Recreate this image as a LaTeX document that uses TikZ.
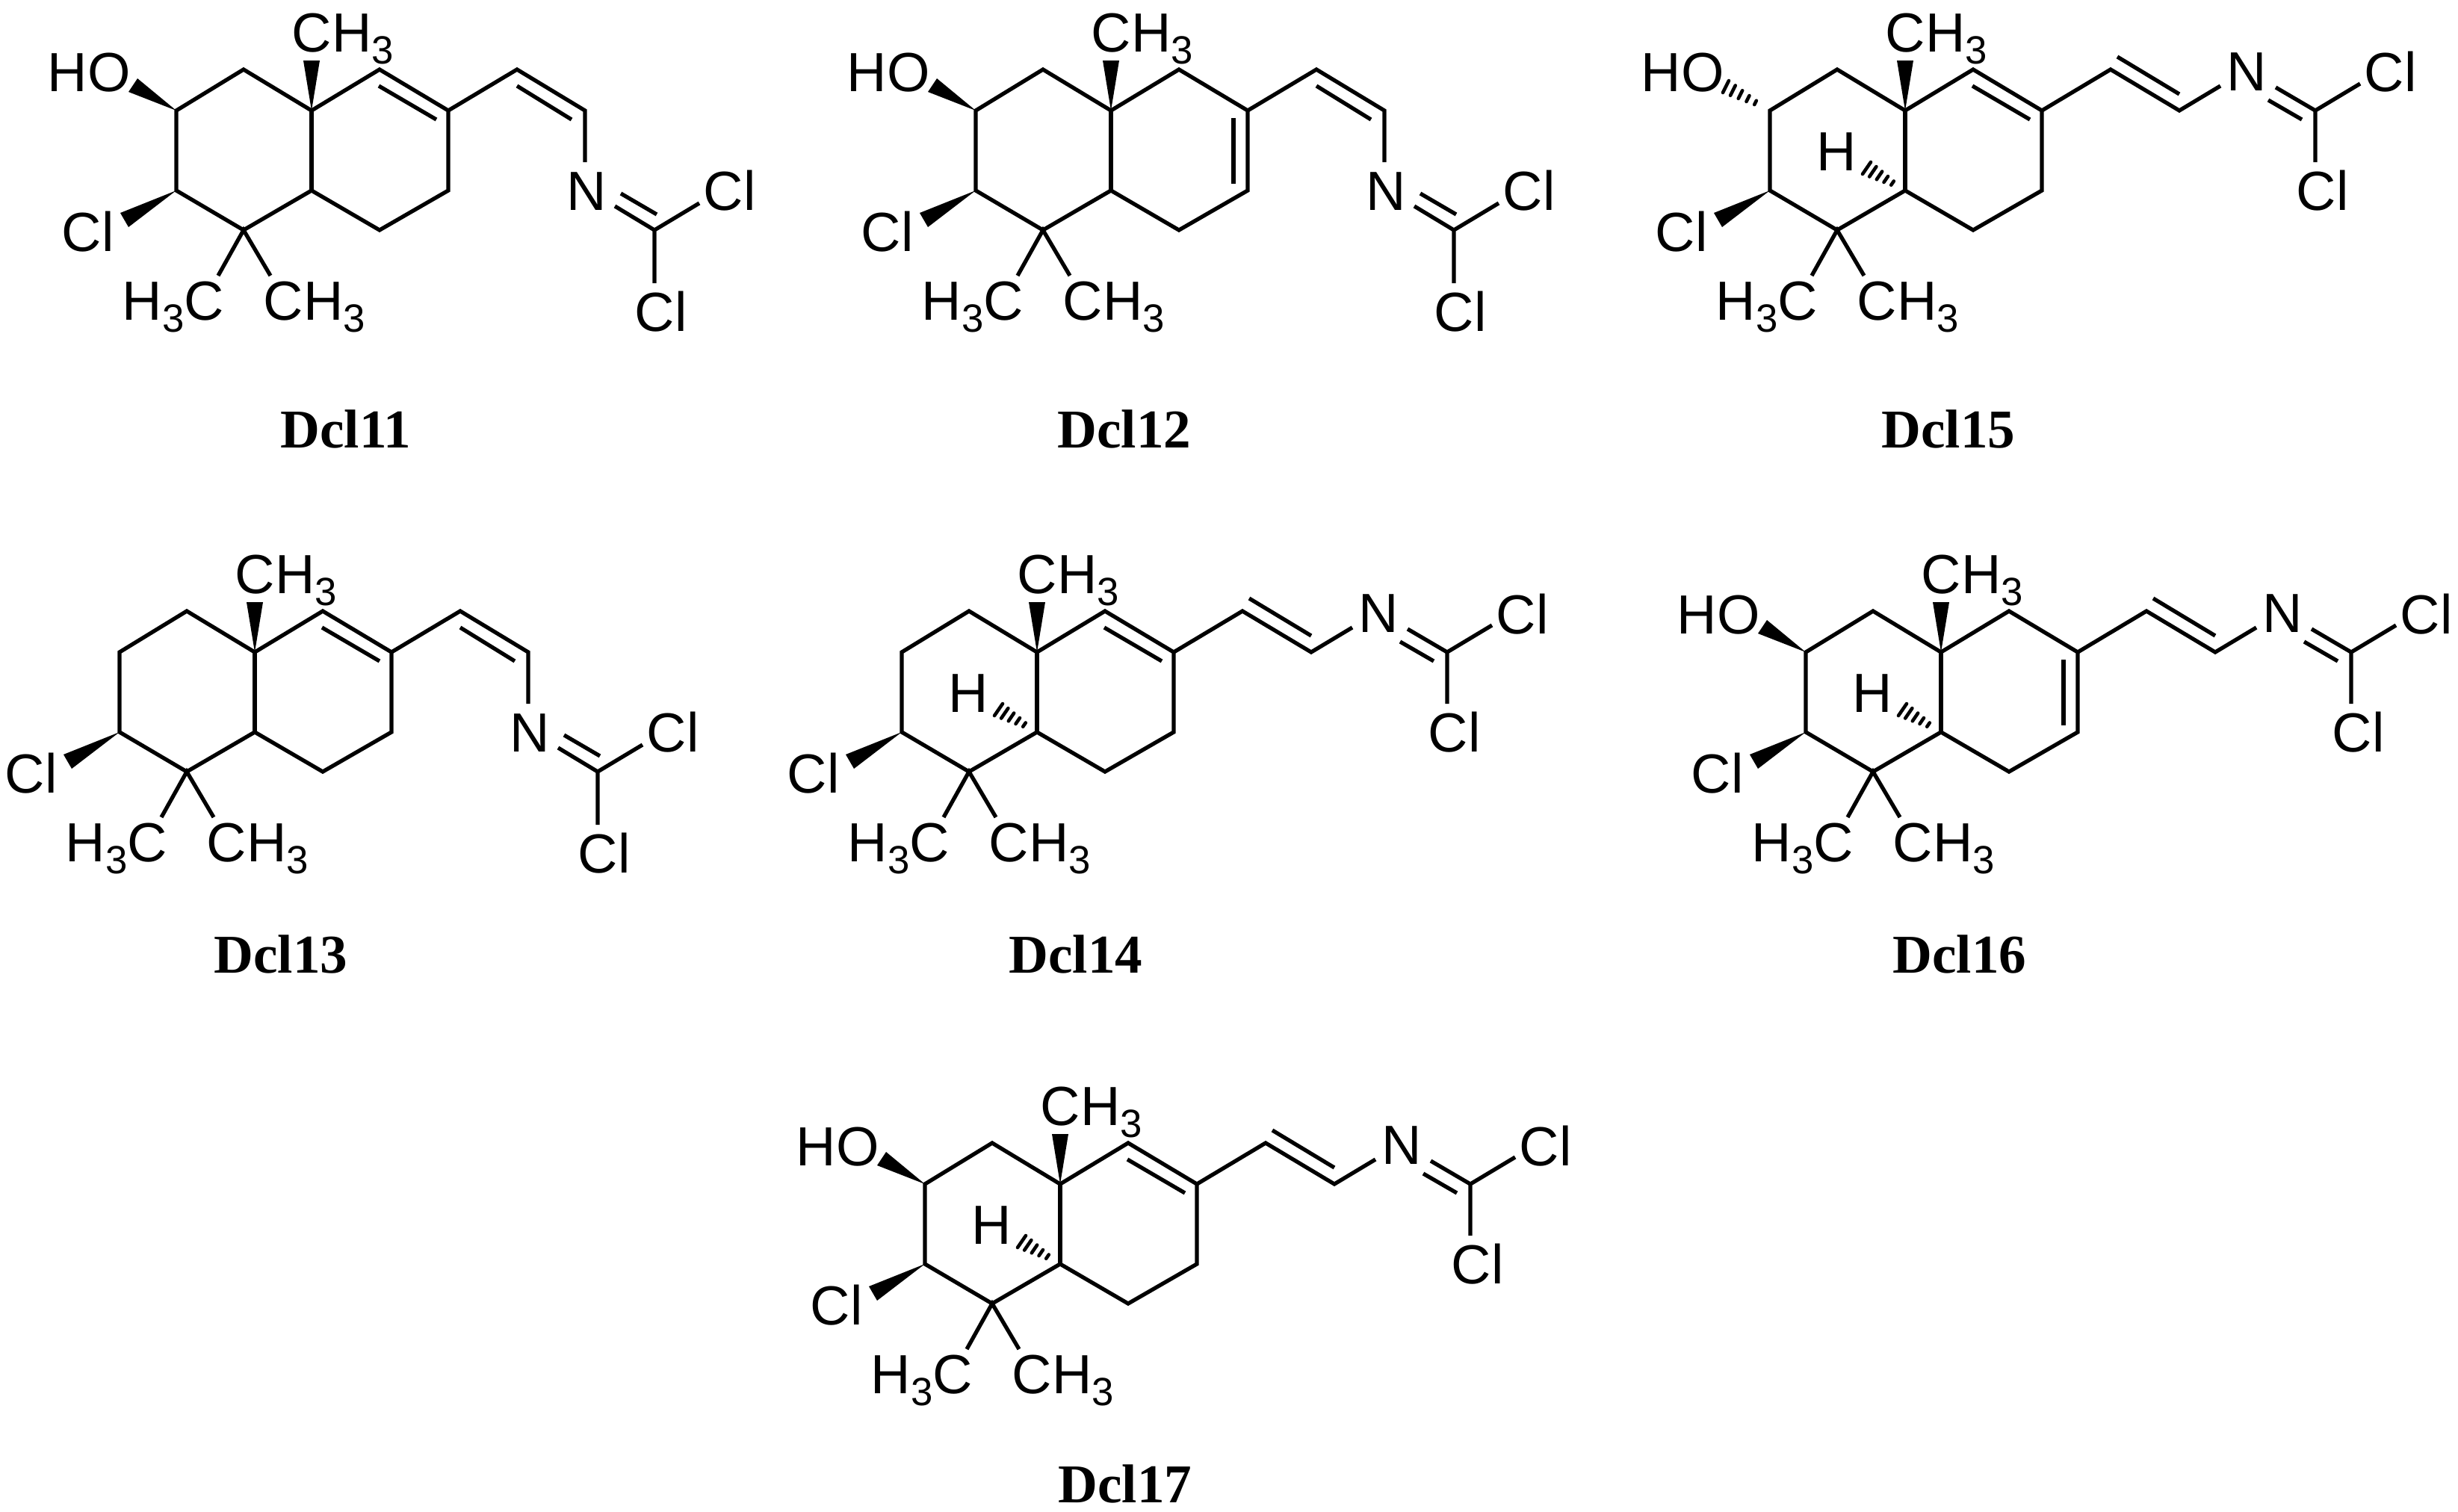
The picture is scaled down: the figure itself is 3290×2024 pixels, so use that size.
\documentclass[tikz,border=0pt]{standalone}
\usepackage{fontspec}
\setmainfont{Liberation Sans}
\newfontfamily\dclfont{Liberation Serif}
\usetikzlibrary{calc}

\tikzset{
	bond/.style={line width=1.5pt,line join=miter},
	hash bond/.style={line width=1.3pt,line cap=round},
	atom/.style={anchor=base west,inner sep=0pt,font=\fontsize{21pt}{21pt}\selectfont},
	dclname/.style={anchor=base,inner sep=0pt,font=\dclfont\bfseries\fontsize{20.8pt}{20.8pt}\selectfont}
}

% subscript
\newcommand{\subn}[1]{\raisebox{-0.16cm}{\fontsize{15pt}{15pt}\selectfont #1}}

% hashed bond: tip, two corners
\newcommand{\hashbond}[3]{
	\foreach \t in {0.33,0.5,0.67,0.84,1.0}
		\draw[hash bond] ($(#1)!\t!(#2)$) -- ($(#1)!\t!(#3)$);
}

% fused rings, common to all
\newcommand{\core}{
	\coordinate (ca) at (-181,0);
	\coordinate (cb) at (-91,-55);
	\coordinate (cq) at (0,0);
	\coordinate (cd) at (91,-55);
	\coordinate (ce) at (183,0);
	\coordinate (cf) at (183,107);
	\coordinate (cg) at (91,160);
	\coordinate (ch) at (0,107);
	\coordinate (ci) at (-91,160);
	\coordinate (cj) at (-181,107);
	\draw[bond] (ca) -- (cb) -- (cq) -- (cd) -- (ce) -- (cf) -- (cg) -- (ch) -- (ci) -- (cj) -- cycle;
	\draw[bond] (cq) -- (ch);
	% methyl on top
	\coordinate (wa) at (-11,-67);
	\coordinate (wb) at (11,-67);
	\fill (cq) -- (wa) -- (wb) -- cycle;
	\node[atom] (metop) at (-27,-79) {CH\subn{3}};
	% chlorine
	\coordinate (wc) at (-256,137);
	\coordinate (wd) at (-245,156);
	\fill (cj) -- (wc) -- (wd) -- cycle;
	\node[atom] (clring) at (-335,188) {Cl};
	% gem dimethyl
	\coordinate (ga) at (-125,221);
	\coordinate (gb) at (-55,221);
	\draw[bond] (ga) -- (ci) -- (gb);
	\node[atom] (mea) at (-254,280) {H\subn{3}C};
	\node[atom] (meb) at (-65,280) {CH\subn{3}};
}

% ring double bond, two places
\newcommand{\dbltop}{
	\coordinate (da) at (90,-33);
	\coordinate (db) at (167,12);
	\draw[bond] (da) -- (db);
}
\newcommand{\dblside}{
	\coordinate (da) at (164,10);
	\coordinate (db) at (164,98);
	\draw[bond] (da) -- (db);
}

% hydroxyl
\newcommand{\ohwedge}{
	\coordinate (oa) at (-233,-43);
	\coordinate (ob) at (-245,-25);
	\fill (ca) -- (oa) -- (ob) -- cycle;
	\node[atom] (oh) at (-354,-25) {HO};
}
\newcommand{\ohhash}{
	\coordinate (oa) at (-236,-40);
	\coordinate (ob) at (-244,-24);
	\hashbond{ca}{oa}{ob}
	\node[atom] (oh) at (-354,-25) {HO};
}

% ring hydrogen
\newcommand{\ringh}{
	\coordinate (ha) at (-46,69);
	\coordinate (hb) at (-57,85);
	\hashbond{ch}{ha}{hb}
	\node[atom] (hy) at (-119,80) {H};
}

% side chain Z
\newcommand{\chainz}{
	\coordinate (va) at (275,-55);
	\coordinate (vb) at (366,0);
	\coordinate (vc) at (275,-33);
	\coordinate (vd) at (348,12);
	\coordinate (ne) at (366,69);
	\coordinate (na) at (406,128);
	\coordinate (nb) at (414,111);
	\coordinate (nc) at (462,139);
	\coordinate (cc) at (459,160);
	\coordinate (la) at (519,124);
	\coordinate (lb) at (459,231);
	\draw[bond] (ce) -- (va) -- (vb) -- (ne);
	\draw[bond] (vc) -- (vd);
	\draw[bond] (na) -- (cc);
	\draw[bond] (nb) -- (nc);
	\draw[bond] (la) -- (cc) -- (lb);
	\node[atom] (nn) at (341,133) {N};
	\node[atom] (cla) at (524,133) {Cl};
	\node[atom] (clb) at (432,295) {Cl};
}

% side chain E
\newcommand{\chaine}{
	\coordinate (va) at (275,-55);
	\coordinate (vb) at (367,0);
	\coordinate (vc) at (284,-72);
	\coordinate (vd) at (367,-22);
	\coordinate (ne) at (422,-33);
	\coordinate (na) at (496,-31);
	\coordinate (nb) at (486,-14);
	\coordinate (nc) at (531,12);
	\coordinate (cc) at (549,0);
	\coordinate (la) at (609,-36);
	\coordinate (lb) at (549,69);
	\draw[bond] (ce) -- (va) -- (vb) -- (ne);
	\draw[bond] (vc) -- (vd);
	\draw[bond] (na) -- (cc);
	\draw[bond] (nb) -- (nc);
	\draw[bond] (la) -- (cc) -- (lb);
	\node[atom] (nn) at (430,-27) {N};
	\node[atom] (cla) at (614,-25) {Cl};
	\node[atom] (clb) at (523,133) {Cl};
}

% one molecule
\newcommand{\mol}[4]{
	\begin{scope}[shift={(#2,#3)},name prefix=#1-]
		\core
		#4
	\end{scope}
}

\begin{document}
\begin{tikzpicture}[x=0.01cm,y=-0.01cm]
\useasboundingbox (0,0) rectangle (3290,2024);

% top row
\mol{a}{417}{148}{\dbltop\ohwedge\chainz}
\mol{b}{1487}{148}{\dblside\ohwedge\chainz}
\mol{c}{2550}{148}{\dbltop\ohhash\ringh\chaine}

% middle row
\mol{d}{341}{873}{\dbltop\chainz}
\mol{e}{1388}{873}{\dbltop\ringh\chaine}
\mol{f}{2598}{873}{\dblside\ohwedge\ringh\chaine}

% bottom row
\mol{g}{1419}{1585}{\dbltop\ohwedge\ringh\chaine}

% names
\node[dclname] (dcl11) at (463,599) {Dcl11};
\node[dclname] (dcl12) at (1505,599) {Dcl12};
\node[dclname] (dcl15) at (2608,599) {Dcl15};
\node[dclname] (dcl13) at (376,1302) {Dcl13};
\node[dclname] (dcl14) at (1440,1302) {Dcl14};
\node[dclname] (dcl16) at (2623,1302) {Dcl16};
\node[dclname] (dcl17) at (1506,2011) {Dcl17};

\end{tikzpicture}
\end{document}
